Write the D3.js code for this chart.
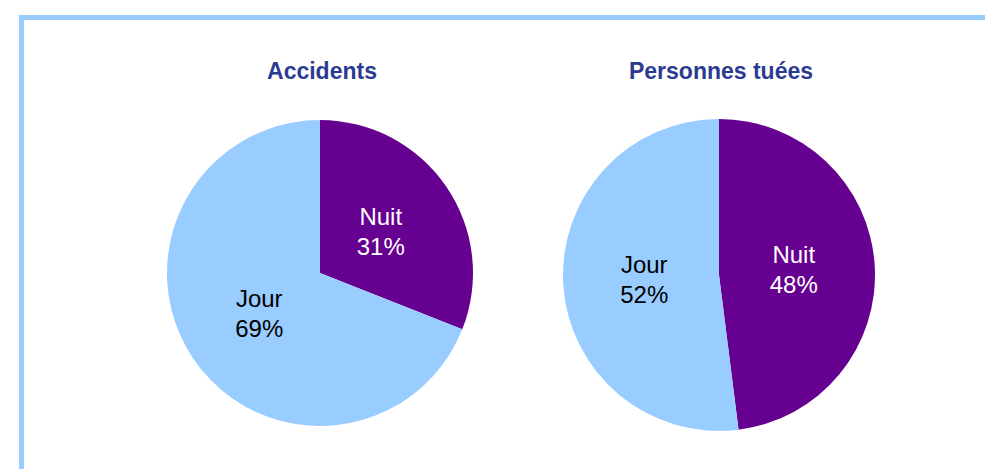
<!DOCTYPE html>
<html>
<head>
<meta charset="utf-8">
<script src="https://cdn.jsdelivr.net/npm/d3@7"></script>
<style>
  body { margin: 0; background: #fff; }
  svg { display: block; font-family: "Liberation Sans", Arial, sans-serif; }
</style>
</head>
<body>
<svg></svg>
<script>
// data
const categories = ['Nuit', 'Jour'];
const accidents = [31, 69];
const tues = [48, 52];
const titles = ['Accidents', 'Personnes tuées'];

const width = 985, height = 469;

const svg = d3.select('svg')
    .attr('width', width)
    .attr('height', height);

// light blue frame (top + left, runs off the page)
svg.append('rect')
    .attr('x', 21.5)
    .attr('y', 17.5)
    .attr('width', 1000)
    .attr('height', 1000)
    .attr('fill', 'none')
    .attr('stroke', '#99ccff')
    .attr('stroke-width', 5);

const color = d3.scaleOrdinal()
    .domain(categories)
    .range(['#660090', '#99ccff']);

const textColor = d3.scaleOrdinal()
    .domain(categories)
    .range(['#ffffff', '#000000']);

const pies = [
    { title: titles[0], values: accidents, cx: 320, cy: 273, r: 153, tx: 322 },
    { title: titles[1], values: tues, cx: 719, cy: 275, r: 156, tx: 721 }
];

const pie = d3.pie()
    .sort(null)
    .value(d => d.value);

pies.forEach(p => {
    const g = svg.append('g')
        .attr('transform', `translate(${p.cx},${p.cy})`);

    const arc = d3.arc().innerRadius(0).outerRadius(p.r);
    const labelArc = d3.arc().innerRadius(p.r * 0.48).outerRadius(p.r * 0.48);

    const arcs = pie(categories.map((c, i) => ({ name: c, value: p.values[i] })));

    g.selectAll('path')
        .data(arcs)
        .enter().append('path')
        .attr('d', arc)
        .attr('fill', d => color(d.data.name));

    const labels = g.selectAll('text.lbl')
        .data(arcs)
        .enter().append('text')
        .attr('class', 'lbl')
        .attr('transform', d => `translate(${labelArc.centroid(d)})`)
        .attr('text-anchor', 'middle')
        .attr('font-size', 24)
        .attr('fill', d => textColor(d.data.name));

    labels.append('tspan')
        .attr('x', 0)
        .attr('y', -7)
        .text(d => d.data.name);

    labels.append('tspan')
        .attr('x', 0)
        .attr('y', 23)
        .text(d => d.data.value + '%');

    svg.append('text')
        .attr('x', p.tx)
        .attr('y', 79)
        .attr('text-anchor', 'middle')
        .attr('font-size', 23)
        .attr('font-weight', 'bold')
        .attr('fill', '#2b3b92')
        .text(p.title);
});
</script>
</body>
</html>
